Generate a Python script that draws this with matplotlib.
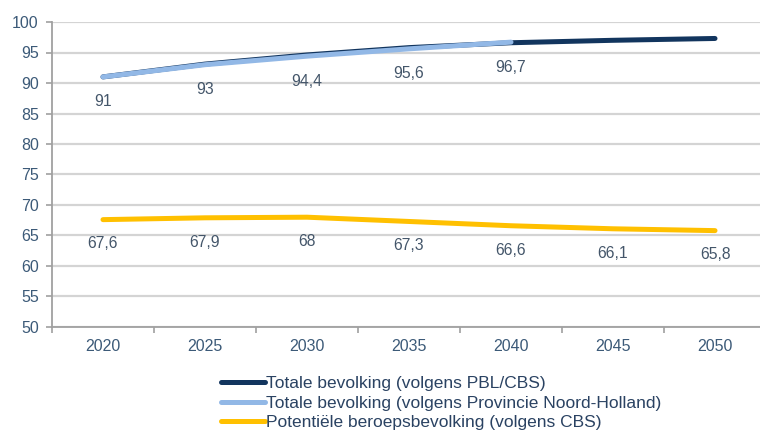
import matplotlib
matplotlib.use("Agg")
import matplotlib.pyplot as plt

plt.rcParams['font.family'] = ['Liberation Sans', 'DejaVu Sans']

years = ["2020", "2025", "2030", "2035", "2040", "2045", "2050"]
pbl_cbs = [91.0, 93.1, 94.6, 95.8, 96.6, 97.0, 97.3]
provincie_nh = [91, 93, 94.4, 95.6, 96.7]
beroeps = [67.6, 67.9, 68, 67.3, 66.6, 66.1, 65.8]
prov_labels = ["91", "93", "94,4", "95,6", "96,7"]
beroeps_labels = ["67,6", "67,9", "68", "67,3", "66,6", "66,1", "65,8"]
yticks = [50, 55, 60, 65, 70, 75, 80, 85, 90, 95, 100]

c_dark = "#12355E"
c_light = "#92B8E6"
c_orange = "#FFC000"
c_tick = "#3C5A78"
c_label = "#44566A"

fig = plt.figure(figsize=(7.6, 4.33), dpi=100)
ax = fig.add_axes([52/760, (433-327)/433, 714/760, (327-22)/433])

x_all = list(range(len(years)))
ax.plot(x_all, pbl_cbs, color=c_dark, lw=3.6, solid_capstyle='round', zorder=3,
        label="Totale bevolking (volgens PBL/CBS)")
ax.plot(x_all[:len(provincie_nh)], provincie_nh, color=c_light, lw=3.6,
        solid_capstyle='round', zorder=4,
        label="Totale bevolking (volgens Provincie Noord-Holland)")
ax.plot(x_all, beroeps, color=c_orange, lw=3.6, solid_capstyle='round', zorder=3,
        label="Potentiële beroepsbevolking (volgens CBS)")

for xi, v, t in zip(x_all, provincie_nh, prov_labels):
    ax.annotate(t, (xi, v), xytext=(0, -18), textcoords='offset points',
                ha='center', va='center', fontsize=11.3, color=c_label)
for xi, v, t in zip(x_all, beroeps, beroeps_labels):
    ax.annotate(t, (xi, v), xytext=(0, -17.5), textcoords='offset points',
                ha='center', va='center', fontsize=11.3, color=c_label)

ax.set_xlim(-0.5, len(years) - 0.5)
ax.set_ylim(50, 100)
ax.set_yticks(yticks)
ax.set_yticklabels([str(v) for v in yticks])
ax.set_xticks(x_all)
ax.set_xticklabels(years)
ax.set_xticks([i + 0.5 for i in range(-1, len(years))], minor=True)

ax.tick_params(axis='x', which='major', length=0, pad=8.5, labelsize=11.5, labelcolor=c_tick)
ax.tick_params(axis='x', which='minor', length=4, width=1.2, color='#A0A0A0', direction='out')
ax.tick_params(axis='y', length=4, width=1.2, color='#A0A0A0', pad=5.5, labelsize=11.5,
               labelcolor=c_tick)

ax.grid(axis='y', color='#D4D4D4', lw=1.6, zorder=0)
ax.set_axisbelow(True)
for s in ['top', 'right']:
    ax.spines[s].set_visible(False)
for s in ['left', 'bottom']:
    ax.spines[s].set_color('#A0A0A0')
    ax.spines[s].set_linewidth(1.3)

leg = fig.legend(loc='upper left', bbox_to_anchor=(221/760, (433-376)/433),
                 frameon=False, fontsize=12.5, handlelength=2.55, handletextpad=0.06,
                 labelspacing=0.26, borderpad=0, borderaxespad=0)
for t in leg.get_texts():
    t.set_color('#2A4262')

fig.savefig("out.png", dpi=100)
